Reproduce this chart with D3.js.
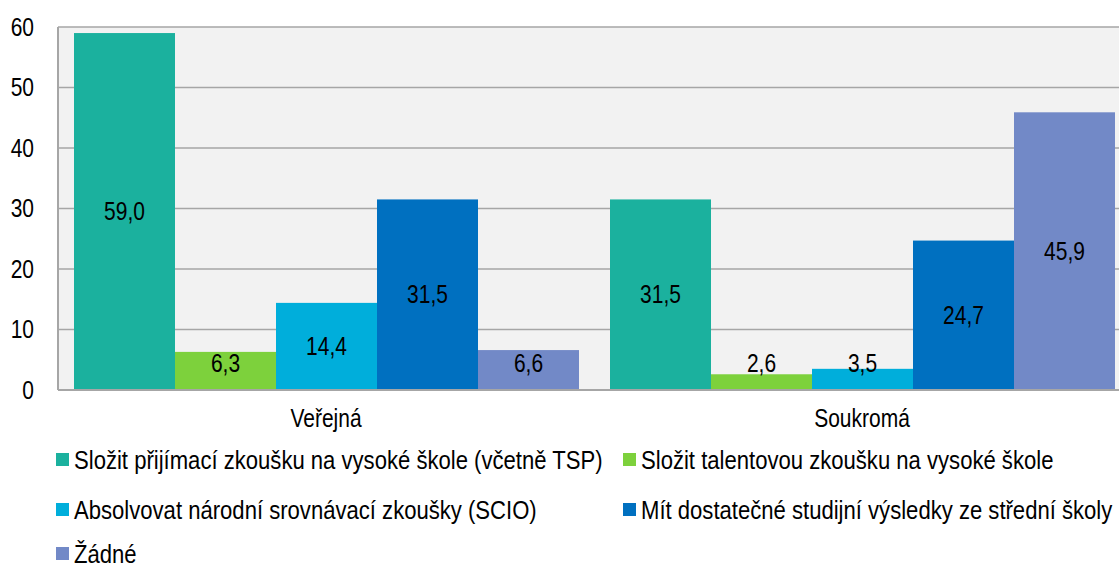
<!DOCTYPE html>
<html><head><meta charset="utf-8">
<script src="https://cdn.jsdelivr.net/npm/d3@7"></script>
<style>body{margin:0;background:#fff}svg{display:block}text{font-family:"Liberation Sans",Arial,sans-serif;fill:#000}</style>
</head><body><svg id="c" width="1119" height="568"></svg>
<script>
const categories = ["Veřejná", "Soukromá"];
const seriesNames = [
  "Složit přijímací zkoušku na vysoké škole (včetně TSP)",
  "Složit talentovou zkoušku na vysoké škole",
  "Absolvovat národní srovnávací zkoušky (SCIO)",
  "Mít dostatečné studijní výsledky ze střední školy",
  "Žádné"
];
const verejna = [59.0, 6.3, 14.4, 31.5, 6.6];
const soukroma = [31.5, 2.6, 3.5, 24.7, 45.9];
const yTicks = [0, 10, 20, 30, 40, 50, 60];
const colors = ["#1bb19e", "#7dd13c", "#00aedb", "#0070c0", "#7289c7"];

const values = [verejna, soukroma];
const SX = 0.84; // narrow font emulation
const svg = d3.select("#c");
const x0 = 58, x1 = 1130, yTop = 27, yBot = 390;
const x = d3.scaleBand().domain(categories).range([x0, x1]).paddingInner(0).paddingOuter(0);
const xs = d3.scaleBand().domain(d3.range(seriesNames.length)).range([16, x.bandwidth() - 15]).padding(0);
const y = d3.scaleLinear().domain([0, 60]).range([yBot, yTop]);

svg.append("rect").attr("x", x0).attr("y", yTop).attr("width", 1119 - x0).attr("height", yBot - yTop).attr("fill", "#f2f2f2");

svg.append("g").selectAll("line").data(yTicks.filter(d => d > 0)).join("line")
  .attr("x1", x0).attr("x2", 1119).attr("y1", d => y(d)).attr("y2", d => y(d))
  .attr("stroke", "#a6a6a6").attr("stroke-width", 1.5);

const g = svg.append("g").selectAll("g").data(categories).join("g")
  .attr("transform", d => `translate(${x(d)},0)`);
g.selectAll("rect").data((d, i) => values[i].map((v, j) => ({v, j}))).join("rect")
  .attr("x", d => xs(d.j)).attr("width", xs.bandwidth())
  .attr("y", d => y(d.v)).attr("height", d => yBot - y(d.v))
  .attr("fill", d => colors[d.j]);
g.selectAll("text").data((d, i) => values[i].map((v, j) => ({v, j}))).join("text")
  .attr("transform", d => `translate(${xs(d.j) + xs.bandwidth() / 2},${Math.min((y(d.v) + yBot) / 2, yBot - 27)}) scale(${SX},1)`)
  .attr("dy", "0.35em").attr("text-anchor", "middle").attr("font-size", 25)
  .text(d => d3.format(".1f")(d.v).replace(".", ","));

// axes lines
svg.append("line").attr("x1", x0).attr("x2", x0).attr("y1", yTop).attr("y2", yBot).attr("stroke", "#a6a6a6").attr("stroke-width", 2);
svg.append("line").attr("x1", x0).attr("x2", 1119).attr("y1", yBot).attr("y2", yBot).attr("stroke", "#a6a6a6").attr("stroke-width", 2);

const yAxis = d3.axisLeft(y).tickValues(yTicks).tickSize(0).tickPadding(0).tickFormat(d3.format("d"));
const ya = svg.append("g").attr("transform", `translate(34,0)`).call(yAxis);
ya.select(".domain").remove();
ya.selectAll("text").attr("font-size", 25).attr("font-family", null).attr("fill", "#000")
  .attr("transform", `scale(${SX},1)`);

const xAxis = d3.axisBottom(x).tickSize(0).tickPadding(0);
const xa = svg.append("g").attr("transform", `translate(0,${yBot + 19})`).call(xAxis);
xa.select(".domain").remove();
xa.selectAll("text").attr("font-size", 25).attr("font-family", null).attr("fill", "#000")
  .attr("transform", `scale(${SX},1)`);

const legPos = [[56, 460], [623, 460], [56, 510], [623, 510], [56, 554]];
const lg = svg.append("g").selectAll("g").data(seriesNames).join("g")
  .attr("transform", (d, i) => `translate(${legPos[i][0]},${legPos[i][1]})`);
lg.append("rect").attr("x", 0).attr("y", -7).attr("width", 13).attr("height", 13).attr("fill", (d, i) => colors[i]);
lg.append("text").attr("transform", `translate(18,0) scale(0.85,1)`).attr("dy", "0.35em").attr("font-size", 26).text(d => d);
</script></body></html>
